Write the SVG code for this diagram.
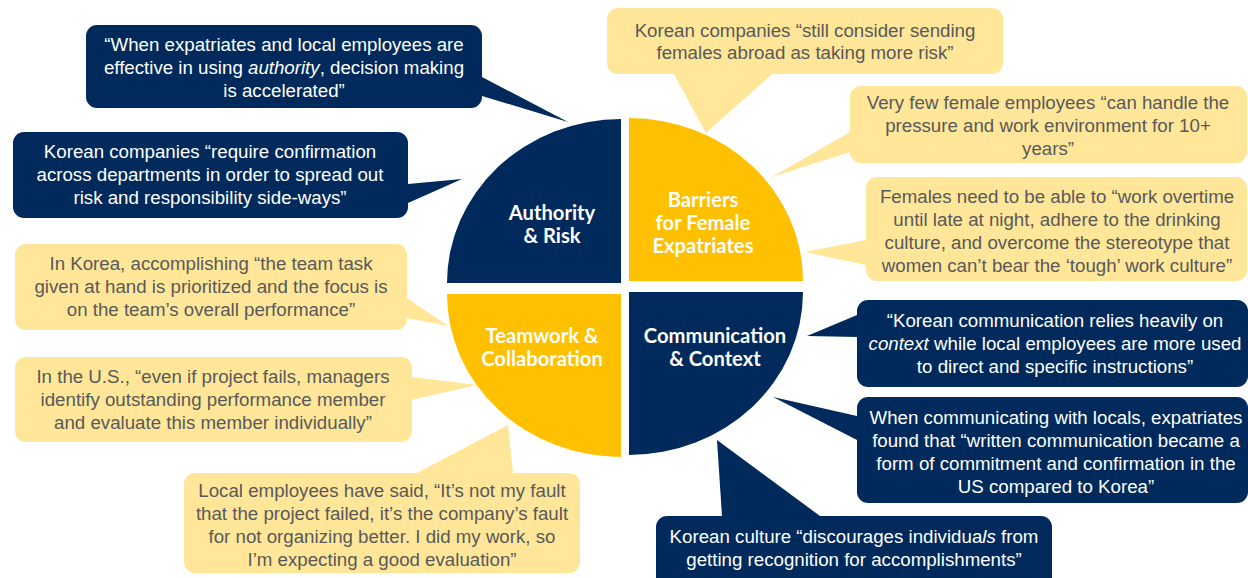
<svg xmlns="http://www.w3.org/2000/svg" width="1248" height="578" viewBox="0 0 1248 578">
<style>
.navy{fill:#002a5c}
.gold{fill:#ffc000}
.pale{fill:#ffe699}
.qt{font-family:Lato,"Open Sans",sans-serif;font-weight:bold;font-size:20.2px;fill:#ffffff;text-anchor:middle}
.wt{font-family:"Liberation Sans",Arial,sans-serif;font-size:18.7px;fill:#ffffff;text-anchor:middle}
.gt{font-family:"Liberation Sans",Arial,sans-serif;font-size:18.7px;fill:#595959;text-anchor:middle}
.i{font-style:italic}
</style>
<rect width="1248" height="578" fill="#ffffff"/>
<g id="connectors">
<polygon class="navy" points="482,77 568,122 482,96"/>
<polygon class="navy" points="408,184 462,179 408,203"/>
<polygon class="pale" points="407,298 448,326 407,318"/>
<polygon class="pale" points="412,377 477,385 412,400"/>
<polygon class="pale" points="417,473 508,425 513,473"/>
<polygon class="pale" points="674,74 706,133 772,74"/>
<polygon class="pale" points="850,132 772,177 850,152"/>
<polygon class="pale" points="866,240 805,252 866,265"/>
<polygon class="navy" points="857,315 807,336 857,337"/>
<polygon class="navy" points="857,416 773,397 857,440"/>
<polygon class="navy" points="722,516 717,440 820,516"/>
</g>
<g id="quad-authority">
<path class="navy" d="M621,283 L447,283 A174,164 0 0 1 621,119 Z"/>
<text class="qt"><tspan x="552" y="220">Authority</tspan><tspan x="552" y="243">&amp; Risk</tspan></text>
</g>
<g id="quad-barriers">
<path class="gold" d="M629,281 L629,118 A174,163 0 0 1 803,281 Z"/>
<text class="qt"><tspan x="703" y="207">Barriers</tspan><tspan x="703" y="230">for Female</tspan><tspan x="703" y="253">Expatriates</tspan></text>
</g>
<g id="quad-teamwork">
<path class="gold" d="M621,294 L621,457 A174,163 0 0 1 447,294 Z"/>
<text class="qt"><tspan x="542" y="343">Teamwork &amp;</tspan><tspan x="542" y="366">Collaboration</tspan></text>
</g>
<g id="quad-communication">
<path class="navy" d="M629,292 L803,292 A174,163 0 0 1 629,455 Z"/>
<text class="qt"><tspan x="715" y="343">Communication</tspan><tspan x="715" y="366">&amp; Context</tspan></text>
</g>
<g id="callout-authority-1">
<rect class="navy" x="86" y="25" width="396" height="83" rx="11"/>
<text class="wt"><tspan x="284" y="51">“When expatriates and local employees are</tspan><tspan x="284" y="74">effective in using <tspan class="i">authority</tspan>, decision making</tspan><tspan x="284" y="97">is accelerated”</tspan></text>
</g>
<g id="callout-authority-2">
<rect class="navy" x="13" y="132" width="395" height="86" rx="11"/>
<text class="wt"><tspan x="210" y="158">Korean companies “require confirmation</tspan><tspan x="210" y="181">across departments in order to spread out</tspan><tspan x="210" y="204">risk and responsibility side-ways”</tspan></text>
</g>
<g id="callout-team-1">
<rect class="pale" x="15" y="244" width="392" height="86" rx="11"/>
<text class="gt"><tspan x="211" y="270">In Korea, accomplishing “the team task</tspan><tspan x="211" y="293">given at hand is prioritized and the focus is</tspan><tspan x="211" y="316">on the team’s overall performance”</tspan></text>
</g>
<g id="callout-team-2">
<rect class="pale" x="15" y="357" width="397" height="85" rx="11"/>
<text class="gt"><tspan x="213" y="383">In the U.S., “even if project fails, managers</tspan><tspan x="213" y="406">identify outstanding performance member</tspan><tspan x="213" y="429">and evaluate this member individually”</tspan></text>
</g>
<g id="callout-team-3">
<rect class="pale" x="184" y="473" width="396" height="100" rx="11"/>
<text class="gt"><tspan x="382" y="497">Local employees have said, “It’s not my fault</tspan><tspan x="382" y="520">that the project failed, it’s the company’s fault</tspan><tspan x="382" y="543">for not organizing better. I did my work, so</tspan><tspan x="382" y="566">I’m expecting a good evaluation”</tspan></text>
</g>
<g id="callout-barriers-1">
<rect class="pale" x="607" y="8" width="396" height="66" rx="11"/>
<text class="gt"><tspan x="805" y="37">Korean companies “still consider sending</tspan><tspan x="805" y="59">females abroad as taking more risk”</tspan></text>
</g>
<g id="callout-barriers-2">
<rect class="pale" x="850" y="86" width="397" height="77" rx="11"/>
<text class="gt"><tspan x="1048" y="109">Very few female employees “can handle the</tspan><tspan x="1048" y="132">pressure and work environment for 10+</tspan><tspan x="1048" y="155">years”</tspan></text>
</g>
<g id="callout-barriers-3">
<rect class="pale" x="866" y="177" width="381" height="104" rx="11"/>
<text class="gt"><tspan x="1057" y="203">Females need to be able to “work overtime</tspan><tspan x="1057" y="226">until late at night, adhere to the drinking</tspan><tspan x="1057" y="249">culture, and overcome the stereotype that</tspan><tspan x="1057" y="272">women can’t bear the ‘tough’ work culture”</tspan></text>
</g>
<g id="callout-communication-1">
<rect class="navy" x="857" y="300" width="391" height="87" rx="11"/>
<text class="wt"><tspan x="1055" y="327">“Korean communication relies heavily on</tspan><tspan x="1055" y="350"><tspan class="i">context</tspan> while local employees are more used</tspan><tspan x="1055" y="373">to direct and specific instructions”</tspan></text>
</g>
<g id="callout-communication-2">
<rect class="navy" x="857" y="397" width="391" height="106" rx="11"/>
<text class="wt"><tspan x="1056" y="424">When communicating with locals, expatriates</tspan><tspan x="1056" y="447">found that “written communication became a</tspan><tspan x="1056" y="470">form of commitment and confirmation in the</tspan><tspan x="1056" y="493">US compared to Korea”</tspan></text>
</g>
<g id="callout-communication-3">
<rect class="navy" x="656" y="516" width="396" height="75" rx="11"/>
<text class="wt"><tspan x="854" y="543">Korean culture “discourages individua<tspan class="i">ls</tspan> from</tspan><tspan x="854" y="566">getting recognition for accomplishments”</tspan></text>
</g>
</svg>
